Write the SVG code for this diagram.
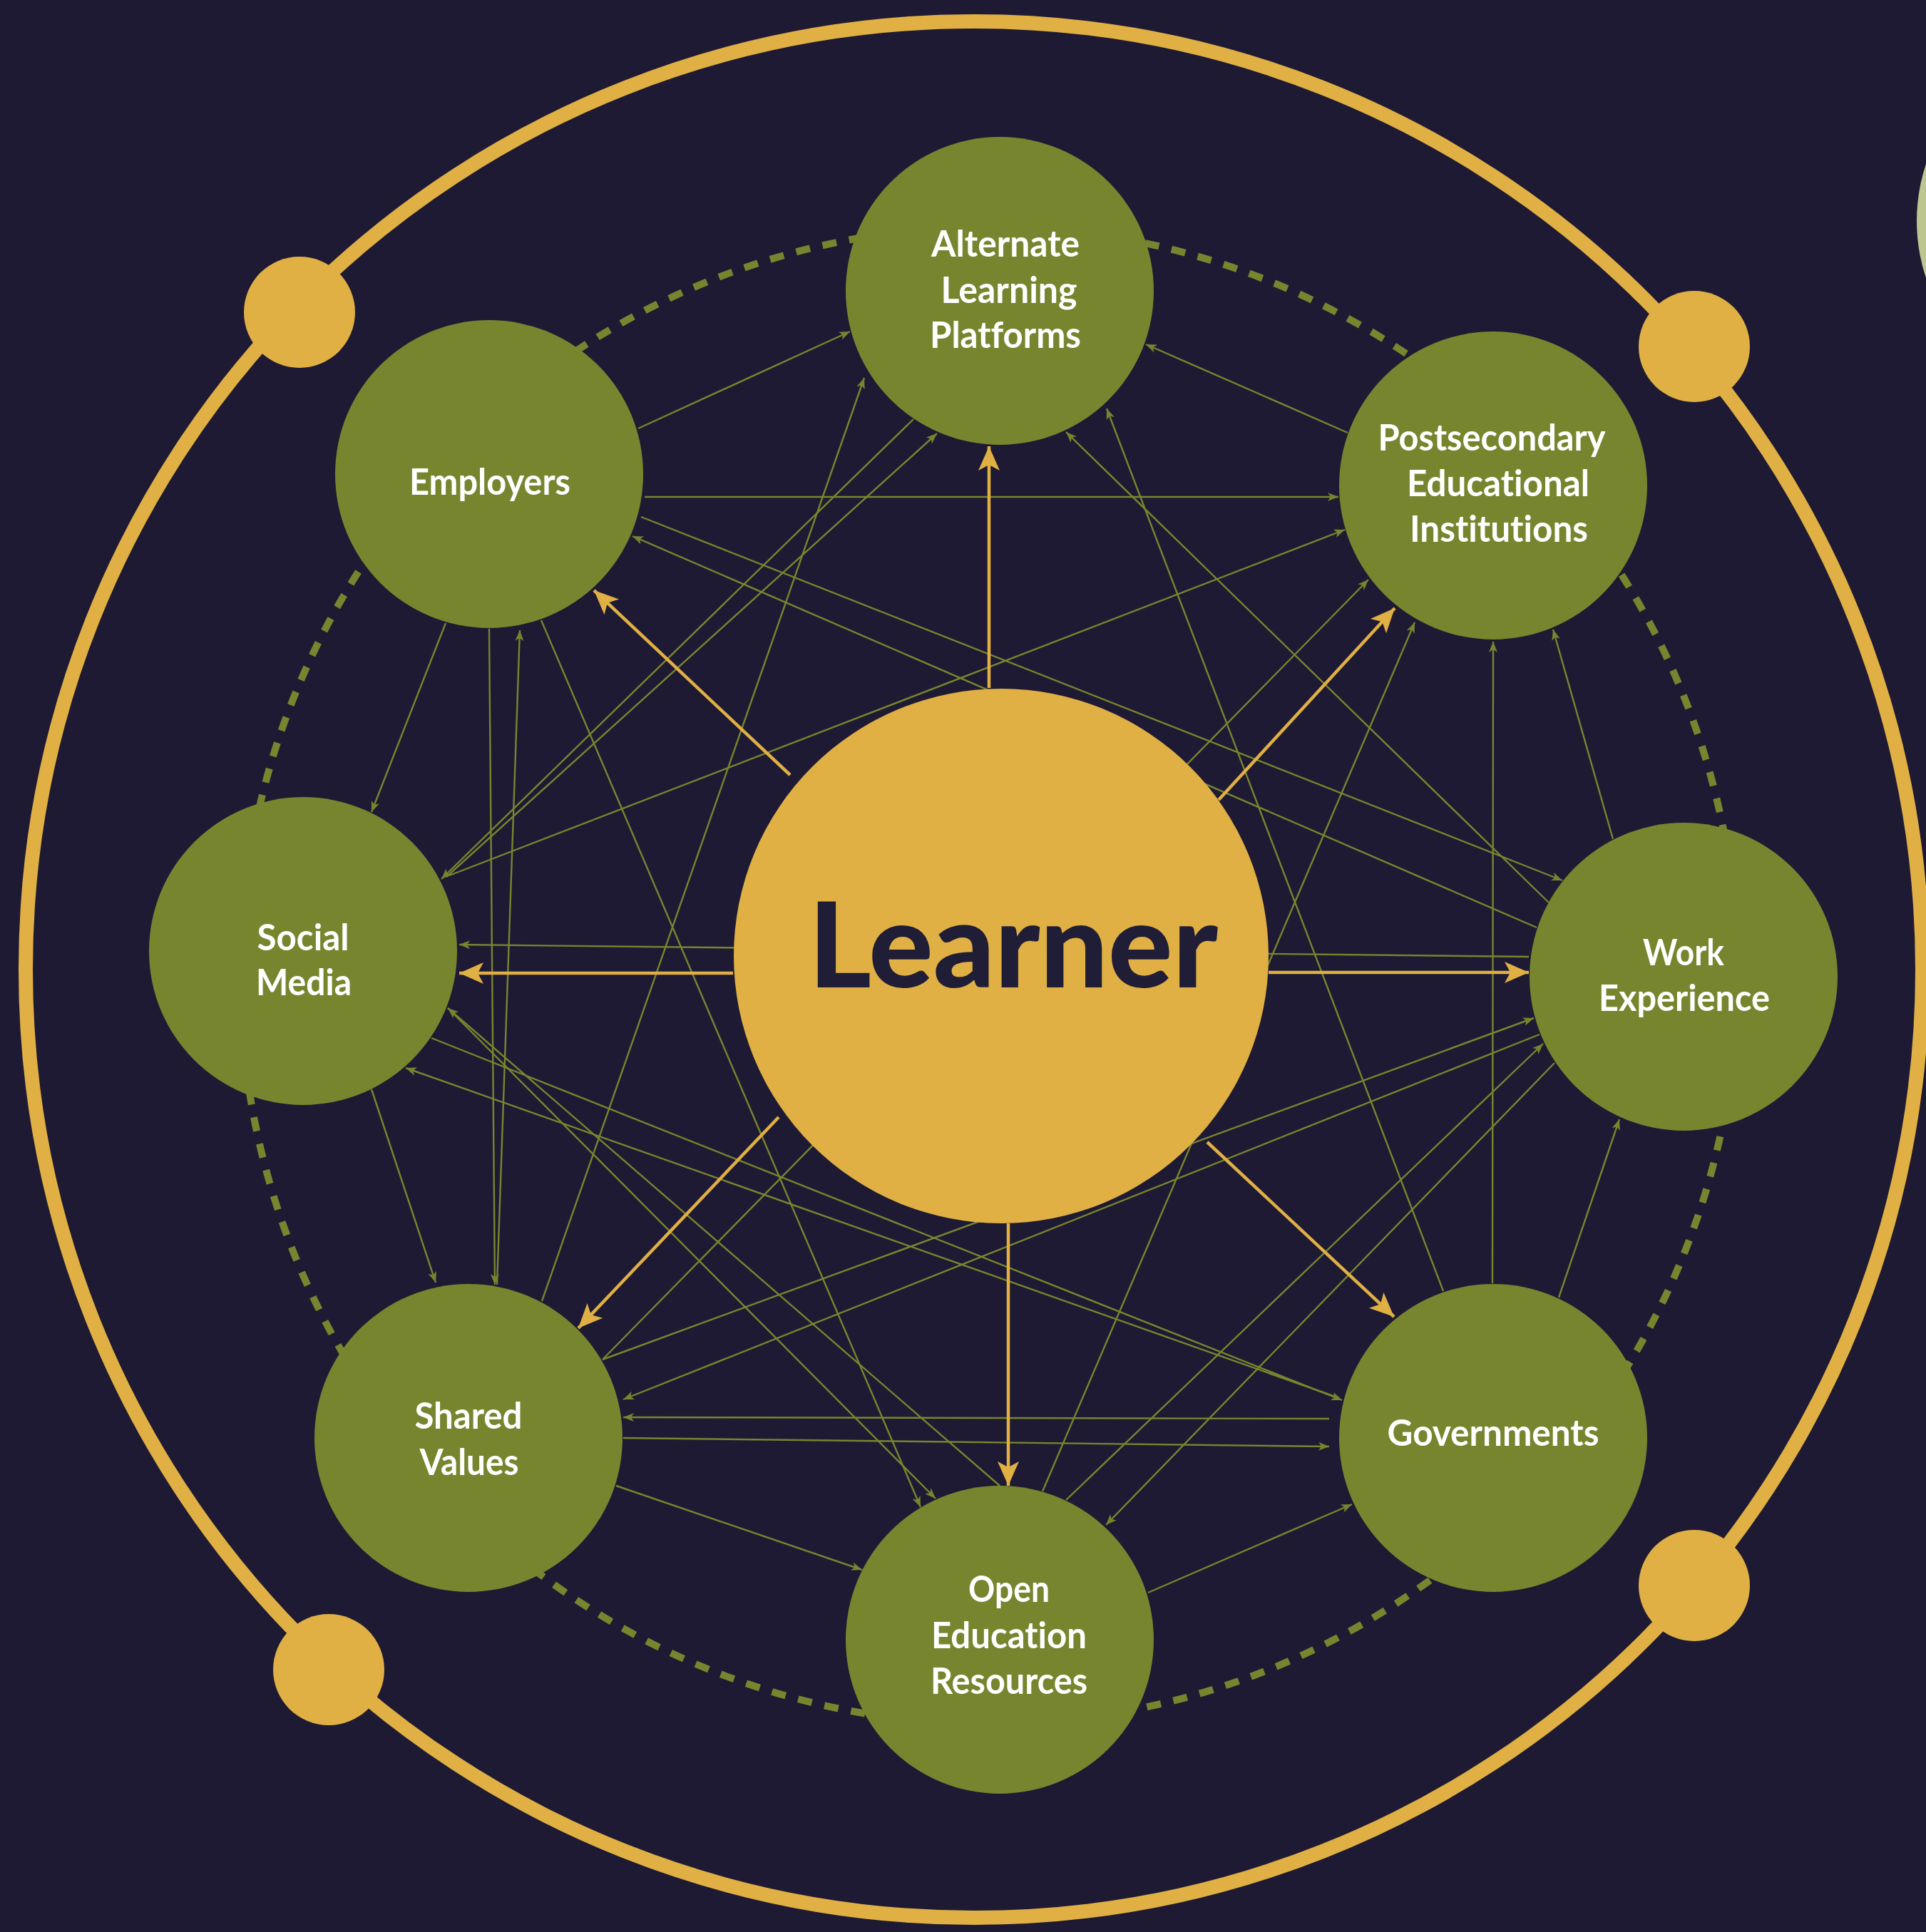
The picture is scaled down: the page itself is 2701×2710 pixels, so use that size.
<svg xmlns="http://www.w3.org/2000/svg" width="2701" height="2710" viewBox="0 0 2701 2710">
<defs>
<style>
.bg{fill:#1e1a33}
.ring{fill:none;stroke:#e0b044;stroke-width:20}
.dot{fill:#e0b044}
.dash{fill:none;stroke:#78852f;stroke-width:10;stroke-dasharray:20 18}
.node{fill:#78852f}
.lab{font-family:Lato,"Open Sans","Noto Sans",sans-serif;font-weight:700;font-size:52px;fill:#ffffff;text-anchor:middle;font-variant-ligatures:none;font-feature-settings:"liga" 0,"clig" 0,"dlig" 0}
.big{font-family:Lato,"Open Sans","Noto Sans",sans-serif;font-weight:900;font-size:166px;fill:#201d36;text-anchor:middle;font-variant-ligatures:none}
.g{stroke:#78852f;stroke-width:2.4;fill:none;marker-end:url(#ag)}
.y{stroke:#e0b044;stroke-width:4.5;fill:none;marker-end:url(#ay)}
</style>
<marker id="ag" markerUnits="userSpaceOnUse" markerWidth="20" markerHeight="16" viewBox="-16 -8 18 16" refX="0" refY="0" orient="auto">
<path d="M0,0 L-15,-6 L-11,0 L-15,6 Z" fill="#78852f"/>
</marker>
<marker id="ay" markerUnits="userSpaceOnUse" markerWidth="40" markerHeight="34" viewBox="-36 -17 38 34" refX="0" refY="0" orient="auto">
<path d="M0,0 L-34,-15 L-26,0 L-34,15 Z" fill="#e0b044"/>
</marker>
</defs>
<rect class="bg" x="0" y="0" width="2701" height="2710"/>
<circle cx="2941" cy="310" r="253" fill="#bec68f"/>
<g id="outer-ring">
<circle class="ring" cx="1366" cy="1360" r="1330"/>
<circle class="dot" cx="420" cy="438" r="78"/>
<circle class="dot" cx="2376" cy="486" r="78"/>
<circle class="dot" cx="461" cy="2342" r="78"/>
<circle class="dot" cx="2376" cy="2224" r="78"/>
</g>
<circle class="dash" cx="1387" cy="1368" r="1050"/>
<g id="connectors">
<path class="g" d="M895,601 L1192,465"/>
<path class="g" d="M904,697 L1877,697"/>
<path class="g" d="M899,725 L2191,1235"/>
<path class="g" d="M2155,1301 L887,752"/>
<path class="g" d="M625,874 L521,1139"/>
<path class="g" d="M686,882 L694,1802"/>
<path class="g" d="M697,1802 L729,884"/>
<path class="g" d="M759,870 L1291,2114"/>
<path class="g" d="M760,1825 L1212,530"/>
<path class="g" d="M1281,588 L619,1233"/>
<path class="g" d="M626,1230 L1314,608"/>
<path class="g" d="M1890,607 L1607,483"/>
<path class="g" d="M2172,1266 L1495,606"/>
<path class="g" d="M2024,1811 L1552,573"/>
<path class="g" d="M630,1228 L1886,743"/>
<path class="g" d="M845,1907 L1919,813"/>
<path class="g" d="M1462,2092 L1984,873"/>
<path class="g" d="M2093,1800 L2094,900"/>
<path class="g" d="M2262,1177 L2178,883"/>
<path class="g" d="M2144,1342 L644,1325"/>
<path class="g" d="M845,1907 L2151,1428"/>
<path class="g" d="M2159,1451 L874,1963"/>
<path class="g" d="M1495,2104 L2164,1464"/>
<path class="g" d="M2180,1491 L1551,2139"/>
<path class="g" d="M2186,1820 L2271,1570"/>
<path class="g" d="M521,1528 L611,1799"/>
<path class="g" d="M605,1456 L1882,1964"/>
<path class="g" d="M1878,1961 L569,1498"/>
<path class="g" d="M628,1414 L1312,2102"/>
<path class="g" d="M1402,2084 L628,1414"/>
<path class="g" d="M874,2017 L1864,2029"/>
<path class="g" d="M1864,1990 L874,1988"/>
<path class="g" d="M864,2084 L1209,2202"/>
<path class="g" d="M1610,2234 L1896,2110"/>
<path class="y" d="M1387,965 L1387,626"/>
<path class="y" d="M1709,1122 L1956,853"/>
<path class="y" d="M1779,1364 L2144,1364"/>
<path class="y" d="M1693,1602 L1955,1847"/>
<path class="y" d="M1414,1716 L1414,2084"/>
<path class="y" d="M1092,1567 L811,1863"/>
<path class="y" d="M1028,1365 L644,1365"/>
<path class="y" d="M1108,1087 L833,828"/>
</g>
<g id="node-learner">
<circle cx="1404" cy="1341" r="375" fill="#e0b044"/>
<text class="big" x="1421" y="1385" textLength="574" lengthAdjust="spacingAndGlyphs">Learner</text>
</g>
<g id="node-alternate">
<circle class="node" cx="1402" cy="408" r="216"/>
<text class="lab" x="1410" y="360" textLength="208" lengthAdjust="spacingAndGlyphs">Alternate</text>
<text class="lab" x="1415" y="425" textLength="191" lengthAdjust="spacingAndGlyphs">Learning</text>
<text class="lab" x="1410" y="488" textLength="212" lengthAdjust="spacingAndGlyphs">Platforms</text>
</g>
<g id="node-employers">
<circle class="node" cx="686" cy="665" r="216"/>
<text class="lab" x="687" y="694" textLength="226" lengthAdjust="spacingAndGlyphs">Employers</text>
</g>
<g id="node-postsecondary">
<circle class="node" cx="2094" cy="681" r="216"/>
<text class="lab" x="2092" y="632" textLength="319" lengthAdjust="spacingAndGlyphs">Postsecondary</text>
<text class="lab" x="2101" y="696" textLength="256" lengthAdjust="spacingAndGlyphs">Educational</text>
<text class="lab" x="2102" y="760" textLength="250" lengthAdjust="spacingAndGlyphs">Institutions</text>
</g>
<g id="node-social">
<circle class="node" cx="425" cy="1334" r="216"/>
<text class="lab" x="425" y="1333" textLength="129" lengthAdjust="spacingAndGlyphs">Social</text>
<text class="lab" x="426" y="1396" textLength="134" lengthAdjust="spacingAndGlyphs">Media</text>
</g>
<g id="node-work">
<circle class="node" cx="2361" cy="1370" r="216"/>
<text class="lab" x="2361" y="1354" textLength="114" lengthAdjust="spacingAndGlyphs">Work</text>
<text class="lab" x="2362" y="1418" textLength="240" lengthAdjust="spacingAndGlyphs">Experience</text>
</g>
<g id="node-shared">
<circle class="node" cx="657" cy="2017" r="216"/>
<text class="lab" x="657" y="2004" textLength="151" lengthAdjust="spacingAndGlyphs">Shared</text>
<text class="lab" x="658" y="2069" textLength="139" lengthAdjust="spacingAndGlyphs">Values</text>
</g>
<g id="node-governments">
<circle class="node" cx="2094" cy="2017" r="216"/>
<text class="lab" x="2094" y="2028" textLength="297" lengthAdjust="spacingAndGlyphs">Governments</text>
</g>
<g id="node-open">
<circle class="node" cx="1402" cy="2300" r="216"/>
<text class="lab" x="1415" y="2247" textLength="114" lengthAdjust="spacingAndGlyphs">Open</text>
<text class="lab" x="1415" y="2312" textLength="218" lengthAdjust="spacingAndGlyphs">Education</text>
<text class="lab" x="1415" y="2376" textLength="220" lengthAdjust="spacingAndGlyphs">Resources</text>
</g>
</svg>
